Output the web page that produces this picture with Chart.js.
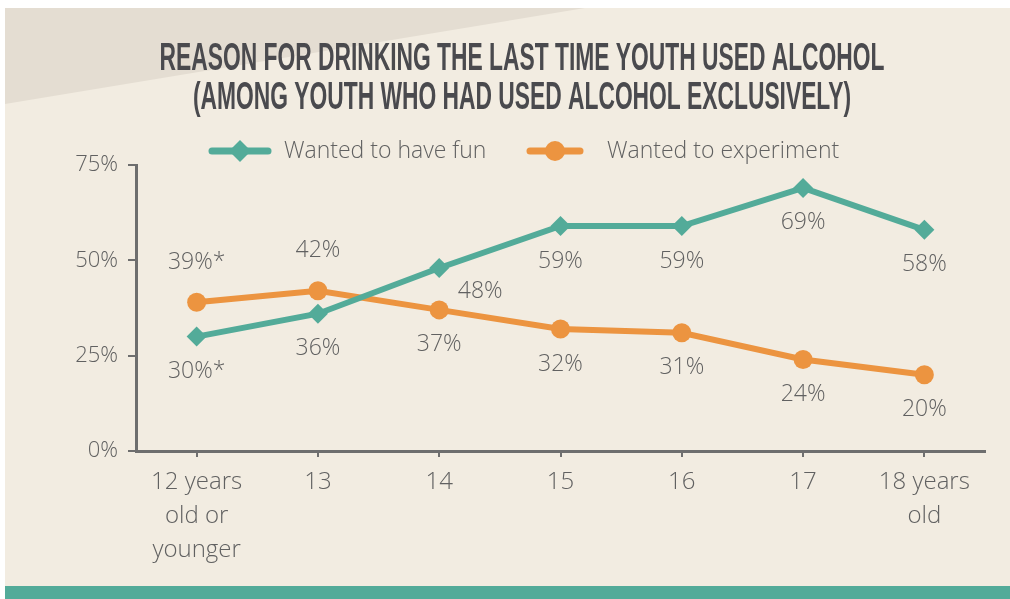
<!DOCTYPE html>
<html>
<head>
<meta charset="utf-8">
<script src="https://cdn.jsdelivr.net/npm/chart.js@4.4.1/dist/chart.umd.min.js"></script>
<style>
  html, body { margin: 0; padding: 0; background: #ffffff; }
  #wrap { position: relative; width: 1010px; height: 599px; overflow: hidden; }
  #card { position: absolute; left: 5px; top: 8px; right: 0; bottom: 0; background: #f2ece1; }
  #shade { position: absolute; left: 5px; top: 8px; width: 580px; height: 96px; background: #e4ddd2;
           clip-path: polygon(0 0, 100% 0, 0 100%); }
  #band { position: absolute; left: 5px; right: 0; top: 586px; height: 13px; background: #53ab99; }
  canvas { position: absolute; left: 0; top: 0; }
</style>
</head>
<body>
<div id="wrap">
  <div id="card"></div>
  <div id="shade"></div>
  <div id="band"></div>
  <canvas id="chart" width="1010" height="599"></canvas>
</div>
<script>
// Reason for drinking, by age
const ages = [['12 years', 'old or', 'younger'], '13', '14', '15', '16', '17', ['18 years', 'old']];
const funValues = [30, 36, 48, 59, 59, 69, 58];
const experimentValues = [39, 42, 37, 32, 31, 24, 20];
const funNotes = ['*', '', '', '', '', '', ''];
const experimentNotes = ['*', '', '', '', '', '', ''];
const funPlacement = ['below', 'below', 'right', 'below', 'below', 'below', 'below'];
const experimentPlacement = ['above', 'above', 'below', 'below', 'below', 'below', 'below'];
const yTicks = [0, 25, 50, 75];

const TEAL = '#53ab99';
const ORANGE = '#ec9440';
const TEXT = '#616161';
const AXIS = '#6e6e6e';
const FONT = '"Open Sans", sans-serif';

const titleLines = [
    'REASON FOR DRINKING THE LAST TIME YOUTH USED ALCOHOL',
    '(AMONG YOUTH WHO HAD USED ALCOHOL EXCLUSIVELY)'
];

// squeeze a line of text to a given width (condensed heading look)
function fitText(ctx, text, cx, baseline, width) {
    const w = ctx.measureText(text).width;
    ctx.save();
    ctx.translate(cx, baseline);
    ctx.scale(width / w, 1);
    ctx.fillText(text, 0, 0);
    ctx.restore();
}

const heading = {
    id: 'heading',
    afterDraw(chart) {
        const ctx = chart.ctx;
        ctx.save();
        ctx.font = 'bold 38px "Liberation Sans Narrow", "Liberation Sans", sans-serif';
        ctx.fillStyle = '#4a4a4e';
        ctx.textAlign = 'center';
        ctx.textBaseline = 'alphabetic';
        fitText(ctx, titleLines[0], 522, 70, 725);
        fitText(ctx, titleLines[1], 522, 109, 658);
        ctx.restore();
    }
};

function drawMarker(ctx, style, x, y, r, color) {
    ctx.fillStyle = color;
    ctx.beginPath();
    if (style === 'rectRot') {
        ctx.moveTo(x - r, y);
        ctx.lineTo(x, y - r);
        ctx.lineTo(x + r, y);
        ctx.lineTo(x, y + r);
        ctx.closePath();
    } else {
        ctx.arc(x, y, r, 0, Math.PI * 2);
    }
    ctx.fill();
}

const lineLegend = {
    id: 'lineLegend',
    afterDraw(chart) {
        const ctx = chart.ctx;
        const y = 151;
        const items = [
            { x0: 212, x1: 268, tx: 284, ds: chart.data.datasets[0], r: 11 },
            { x0: 530, x1: 580, tx: 607, ds: chart.data.datasets[1], r: 10 }
        ];
        ctx.save();
        items.forEach(it => {
            ctx.strokeStyle = it.ds.borderColor;
            ctx.lineWidth = 7;
            ctx.lineCap = 'round';
            ctx.beginPath();
            ctx.moveTo(it.x0, y);
            ctx.lineTo(it.x1, y);
            ctx.stroke();
            drawMarker(ctx, it.ds.pointStyle, (it.x0 + it.x1) / 2, y, it.r, it.ds.borderColor);
            ctx.font = '300 23px ' + FONT;
            ctx.fillStyle = TEXT;
            ctx.textAlign = 'left';
            ctx.textBaseline = 'middle';
            ctx.fillText(it.ds.label, it.tx, y);
        });
        ctx.restore();
    }
};

const valueLabels = {
    id: 'valueLabels',
    afterDatasetsDraw(chart) {
        const ctx = chart.ctx;
        ctx.save();
        ctx.font = '300 23px ' + FONT;
        ctx.fillStyle = TEXT;
        ctx.textAlign = 'center';
        ctx.textBaseline = 'middle';
        chart.data.datasets.forEach((ds, i) => {
            chart.getDatasetMeta(i).data.forEach((pt, j) => {
                let dx = 0, dy = 35;
                if (ds.placement[j] === 'above') dy = -40;
                if (ds.placement[j] === 'right') { dx = 41; dy = 23; }
                ctx.fillText(ds.data[j] + '%' + ds.notes[j], pt.x + dx, pt.y + dy);
            });
        });
        ctx.restore();
    }
};

new Chart(document.getElementById('chart'), {
    type: 'line',
    data: {
        labels: ages,
        datasets: [
            {
                label: 'Wanted to have fun',
                data: funValues,
                notes: funNotes,
                placement: funPlacement,
                borderColor: TEAL,
                backgroundColor: TEAL,
                borderWidth: 6,
                pointStyle: 'rectRot',
                pointRadius: 10,
                pointBorderWidth: 0,
                tension: 0
            },
            {
                label: 'Wanted to experiment',
                data: experimentValues,
                notes: experimentNotes,
                placement: experimentPlacement,
                borderColor: ORANGE,
                backgroundColor: ORANGE,
                borderWidth: 6,
                pointStyle: 'circle',
                pointRadius: 9.5,
                pointBorderWidth: 0,
                tension: 0
            }
        ]
    },
    options: {
        responsive: false,
        animation: false,
        layout: { padding: { top: 165, right: 25, left: 0, bottom: 0 } },
        plugins: {
            legend: { display: false },
            title: { display: false },
            tooltip: { enabled: false }
        },
        scales: {
            x: {
                offset: true,
                grid: { drawOnChartArea: false, color: AXIS, lineWidth: 2, tickLength: 6 },
                border: { display: true, color: AXIS, width: 3 },
                ticks: { color: TEXT, font: { family: FONT, size: 24, weight: 300, lineHeight: 1.42 }, padding: 8, maxRotation: 0 },
                afterFit(scale) { scale.height = 148; }
            },
            y: {
                min: 0,
                max: 75,
                afterBuildTicks(scale) { scale.ticks = yTicks.map(v => ({ value: v })); },
                grid: { drawOnChartArea: false, color: AXIS, lineWidth: 2, tickLength: 8 },
                border: { display: true, color: AXIS, width: 3 },
                ticks: { color: TEXT, font: { family: FONT, size: 22, weight: 300 }, padding: 10, callback: v => v + '%' },
                afterFit(scale) { scale.width = 136; }
            }
        }
    },
    plugins: [heading, lineLegend, valueLabels]
});
</script>
</body>
</html>
